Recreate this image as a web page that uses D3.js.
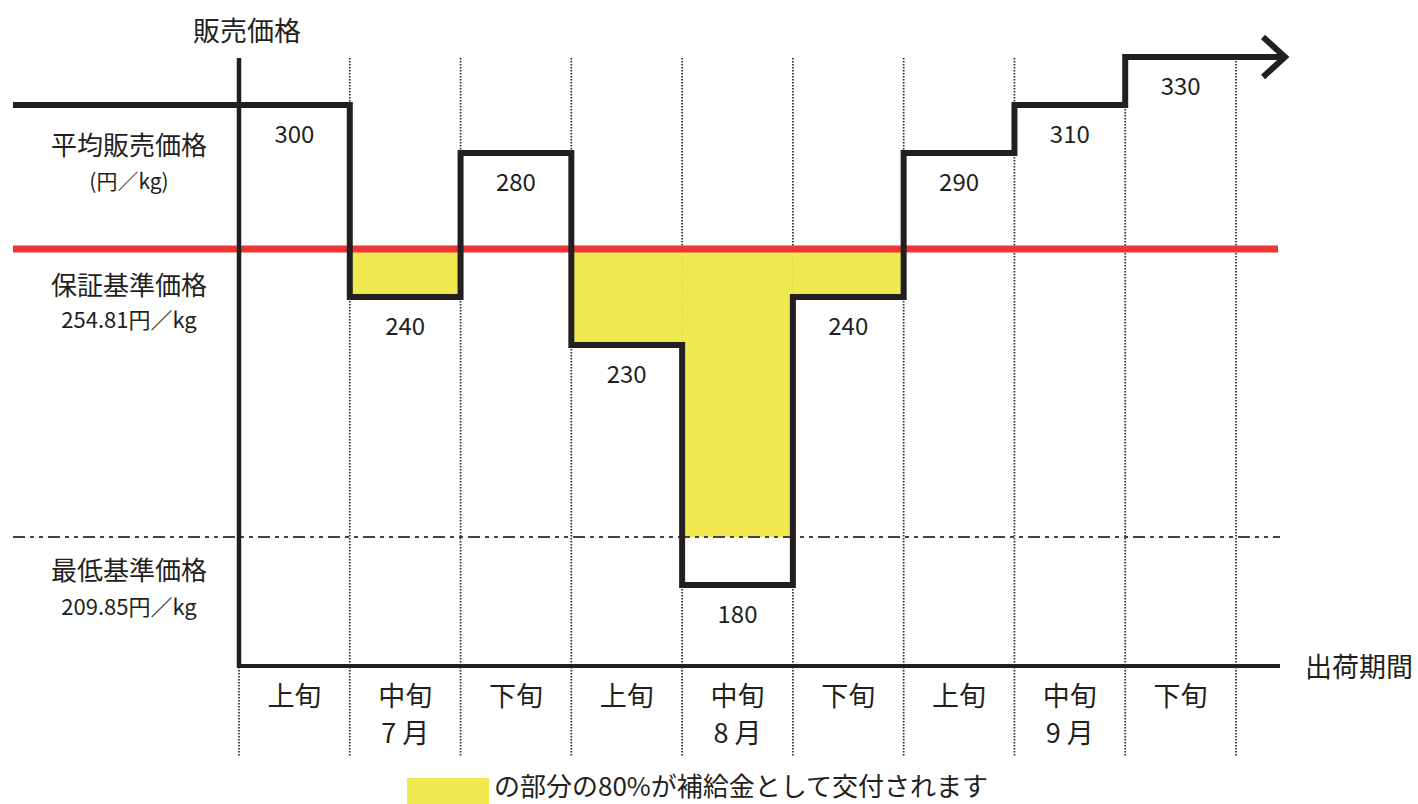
<!DOCTYPE html>
<html>
<head>
<meta charset="utf-8">
<script src="https://cdn.jsdelivr.net/npm/d3@7"></script>
<style>
  body { margin: 0; background: #fff; }
  svg text { font-family: "Noto Sans CJK JP", "Noto Sans", sans-serif; fill: #231f20; }
</style>
</head>
<body>
<svg width="1418" height="804"></svg>
<script>
// periods (旬) and months
const periods = ["上旬", "中旬", "下旬", "上旬", "中旬", "下旬", "上旬", "中旬", "下旬"]
const months = ["7月", "8月", "9月"]

// average selling price per period (円/kg)
const prices = [300, 240, 280, 230, 180, 240, 290, 310, 330]
// the chart is schematic: drawing row of each step
const stepRows = [1, 5, 2, 6, 11, 5, 2, 1, 0]

const guaranteePrice = 254.81
const guaranteeRow = 4
const minPrice = 209.85
const minRow = 10

const ink = "#231f20"
const svg = d3.select("svg")

const x = d3.scaleLinear()
  .domain([0, periods.length])
  .range([239, 1236])

const y = d3.scaleLinear()
  .domain([0, 11])
  .range([57, 585])

const axisTop = 58
const axisBottom = 666
const lineLeft = 13
const lineRight = 1280

// dotted period dividers
svg.append("g")
  .selectAll("line")
  .data(d3.range(periods.length + 1))
  .enter()
  .append("line")
  .attr("x1", d => x(d))
  .attr("x2", d => x(d))
  .attr("y1", axisTop)
  .attr("y2", 757)
  .attr("stroke", "#2a2a2a")
  .attr("stroke-width", 1.7)
  .attr("stroke-dasharray", "1.6 1.4")

// subsidy area: below the guarantee price, down to the minimum price
svg.append("g")
  .selectAll("rect")
  .data(prices.map((p, i) => ({ p, i, row: stepRows[i] })).filter(d => d.p < guaranteePrice))
  .enter()
  .append("rect")
  .attr("x", d => x(d.i))
  .attr("width", d => x(d.i + 1) - x(d.i))
  .attr("y", y(guaranteeRow))
  .attr("height", d => y(Math.min(d.row, minRow)) - y(guaranteeRow))
  .attr("fill", "#efe84e")

// minimum price (dash-dot)
svg.append("line")
  .attr("x1", lineLeft)
  .attr("x2", lineRight)
  .attr("y1", y(minRow))
  .attr("y2", y(minRow))
  .attr("stroke", "#444")
  .attr("stroke-width", 2)
  .attr("stroke-dasharray", "12 5 4 5 4 5")

// guarantee price (red)
svg.append("line")
  .attr("x1", lineLeft)
  .attr("x2", 1278)
  .attr("y1", y(guaranteeRow))
  .attr("y2", y(guaranteeRow))
  .attr("stroke", "#ee3434")
  .attr("stroke-width", 7)

// axes
svg.append("line")
  .attr("x1", x(0)).attr("x2", x(0))
  .attr("y1", axisTop).attr("y2", axisBottom + 2)
  .attr("stroke", ink).attr("stroke-width", 4.5)
svg.append("line")
  .attr("x1", x(0) - 2).attr("x2", lineRight)
  .attr("y1", axisBottom).attr("y2", axisBottom)
  .attr("stroke", ink).attr("stroke-width", 4)

// price steps
const tipX = 1285
const pts = [[lineLeft, stepRows[0]]]
for (let i = 1; i < prices.length; i++) pts.push([x(i), stepRows[i]])
pts.push([tipX - 3, stepRows[stepRows.length - 1]])

const stepLine = d3.line()
  .x(d => d[0])
  .y(d => y(d[1]))
  .curve(d3.curveStepAfter)

svg.append("path")
  .attr("d", stepLine(pts))
  .attr("fill", "none")
  .attr("stroke", ink)
  .attr("stroke-width", 6)
  .attr("stroke-linejoin", "miter")

const tipY = y(stepRows[stepRows.length - 1])
svg.append("path")
  .attr("d", `M${tipX - 22},${tipY - 20}L${tipX},${tipY}L${tipX - 22},${tipY + 20}`)
  .attr("fill", "none")
  .attr("stroke", ink)
  .attr("stroke-width", 6)

// value labels
svg.append("g")
  .selectAll("text")
  .data(prices)
  .enter()
  .append("text")
  .attr("x", (d, i) => (x(i) + x(i + 1)) / 2)
  .attr("y", (d, i) => y(stepRows[i]) + 27)
  .attr("text-anchor", "middle")
  .attr("dominant-baseline", "central")
  .attr("font-size", 24)
  .text(d => d)

// period labels
svg.append("g")
  .selectAll("text")
  .data(periods)
  .enter()
  .append("text")
  .attr("x", (d, i) => (x(i) + x(i + 1)) / 2)
  .attr("y", 694)
  .attr("text-anchor", "middle")
  .attr("dominant-baseline", "central")
  .attr("font-size", 27)
  .text(d => d)

svg.append("g")
  .selectAll("text")
  .data(months)
  .enter()
  .append("text")
  .attr("x", (d, i) => (x(i * 3 + 1) + x(i * 3 + 2)) / 2)
  .attr("y", 731)
  .attr("text-anchor", "middle")
  .attr("dominant-baseline", "central")
  .attr("font-size", 27)
  .text(d => d.replace("月", " 月"))

// axis titles
svg.append("text")
  .attr("x", 247).attr("y", 29)
  .attr("text-anchor", "middle").attr("dominant-baseline", "central")
  .attr("font-size", 27)
  .text("販売価格")
svg.append("text")
  .attr("x", 1305).attr("y", 665)
  .attr("dominant-baseline", "central")
  .attr("font-size", 27)
  .text("出荷期間")

// left side labels
const leftLabels = [
  { t: "平均販売価格", y: 143, s: 26 },
  { t: "(円／kg)", y: 180, s: 21 },
  { t: "保証基準価格", y: 283, s: 26 },
  { t: guaranteePrice + "円／kg", y: 318, s: 22 },
  { t: "最低基準価格", y: 568, s: 26 },
  { t: minPrice + "円／kg", y: 605, s: 22 },
]
svg.append("g")
  .selectAll("text")
  .data(leftLabels)
  .enter()
  .append("text")
  .attr("x", 129)
  .attr("y", d => d.y)
  .attr("text-anchor", "middle")
  .attr("dominant-baseline", "central")
  .attr("font-size", d => d.s)
  .text(d => d.t)

// legend
svg.append("rect")
  .attr("x", 407).attr("y", 778)
  .attr("width", 82).attr("height", 26)
  .attr("fill", "#efe84e")
svg.append("text")
  .attr("x", 494).attr("y", 784)
  .attr("dominant-baseline", "central")
  .attr("font-size", 26)
  .text("の部分の80%が補給金として交付されます")
</script>
</body>
</html>
